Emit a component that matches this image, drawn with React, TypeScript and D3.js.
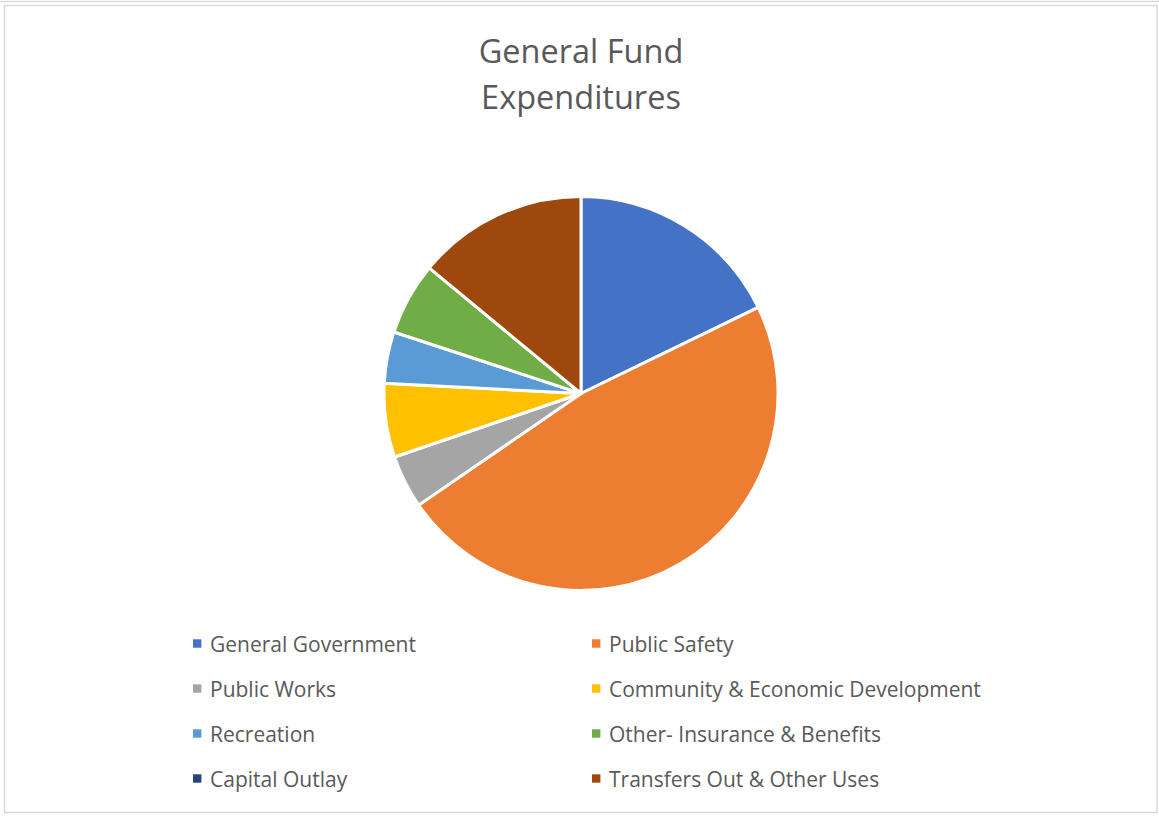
import React from "react";
import * as d3 from "d3";

const categories = [
  "General Government",
  "Public Safety",
  "Public Works",
  "Community & Economic Development",
  "Recreation",
  "Other- Insurance & Benefits",
  "Capital Outlay",
  "Transfers Out & Other Uses",
];
const expenditures = [1780, 4760, 436, 606, 422, 594, 0, 1400];
const colors = ["#4472C4", "#ED7D31", "#A5A5A5", "#FFC000", "#5B9BD5", "#70AD47", "#264478", "#9E480E"];
const titleLines = ["General Fund", "Expenditures"];

const W = 1159;
const H = 818;
const FONT = "'Open Sans', 'Noto Sans', sans-serif";

export default function App() {
  const cx = 581;
  const cy = 393.5;
  const r = 197;

  const data = categories.map((c, i) => ({ name: c, value: expenditures[i], color: colors[i] }));
  const pie = d3.pie<any>().sort(null).value((d: any) => d.value);
  const arcs = pie(data);
  const arc = d3.arc<any>().innerRadius(0).outerRadius(r);

  const legendCols = [193, 592];
  const legendRows = d3.range(4).map((i) => 643.5 + i * 45);

  return (
    <svg
      width={W}
      height={H}
      style={{ position: "absolute", left: 0, top: 0, background: "#fff" }}
    >
      <line x1={0} x2={W} y1={1.5} y2={1.5} stroke="#d9d9d9" strokeWidth={1.5} />
      <rect x={4.5} y={5.5} width={1152.5} height={807} fill="#fff" stroke="#d9d9d9" strokeWidth={1.5} />

      {titleLines.map((t, i) => (
        <text
          key={t}
          x={581}
          y={50 + i * 46}
          textAnchor="middle"
          dominantBaseline="central"
          fontFamily={FONT}
          fontSize={32.5}
          fill="#595959"
        >
          {t}
        </text>
      ))}

      <g transform={`translate(${cx},${cy})`}>
        {arcs
          .filter((a) => a.value > 0)
          .map((a) => (
            <path
              key={a.data.name}
              d={arc(a) as string}
              fill={a.data.color}
              stroke="#fff"
              strokeWidth={3}
              strokeLinejoin="round"
            />
          ))}
      </g>

      {data.map((d, i) => {
        const col = i % 2;
        const row = Math.floor(i / 2);
        const x = legendCols[col];
        const y = legendRows[row];
        return (
          <g key={d.name}>
            <rect x={x} y={y - 4.2} width={8.4} height={8.4} fill={d.color} />
            <text
              x={x + 17}
              y={y}
              dominantBaseline="central"
              fontFamily={FONT}
              fontSize={21}
              fill="#595959"
            >
              {d.name}
            </text>
          </g>
        );
      })}
    </svg>
  );
}
